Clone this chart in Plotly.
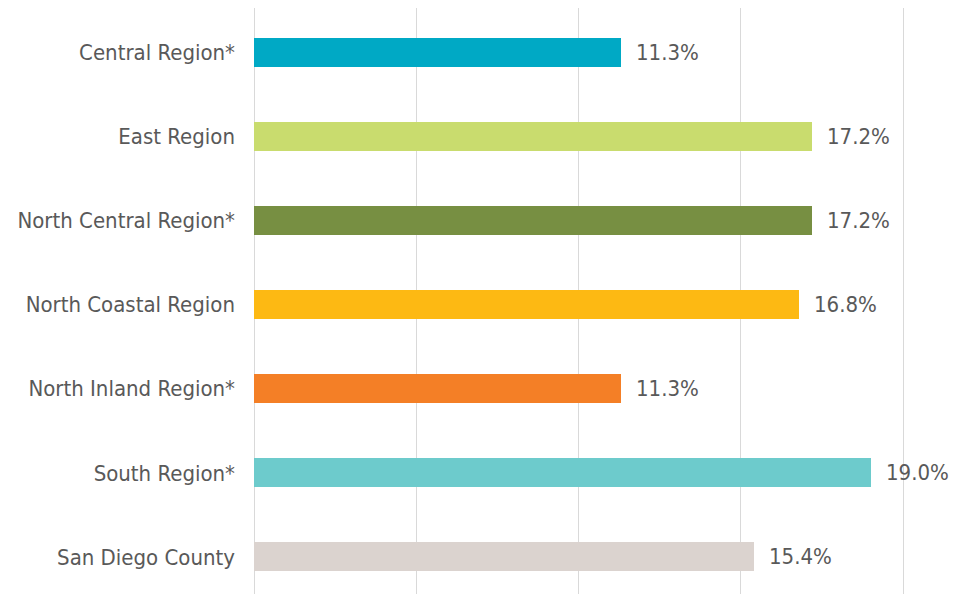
import plotly.graph_objects as go

categories = ["Central Region*", "East Region", "North Central Region*", "North Coastal Region",
              "North Inland Region*", "South Region*", "San Diego County"]
values = [11.3, 17.2, 17.2, 16.8, 11.3, 19.0, 15.4]
value_labels = ["11.3%", "17.2%", "17.2%", "16.8%", "11.3%", "19.0%", "15.4%"]
colors = ["#00A9C5", "#C9DC6E", "#778F42", "#FDB913", "#F47F26", "#6DCBCC", "#DBD3CF"]

FONT = "Liberation Sans Narrow, Arial Narrow, DejaVu Sans Condensed, Liberation Sans, sans-serif"
TEXT_COLOR = "#595959"

fig = go.Figure()
fig.add_trace(go.Bar(
    x=values, y=categories, orientation="h",
    marker=dict(color=colors, line=dict(width=0)),
    width=0.345, hoverinfo="skip",
))

for cat, v, lab in zip(categories, values, value_labels):
    fig.add_annotation(x=v, y=cat, text=lab, showarrow=False, xanchor="left",
                       yanchor="middle", xshift=13,
                       font=dict(family=FONT, size=22, color=TEXT_COLOR))

fig.update_layout(
    width=957, height=594,
    margin=dict(l=246, r=0, t=0, b=0),
    paper_bgcolor="white", plot_bgcolor="white",
    showlegend=False,
    bargap=0,
    xaxis=dict(range=[0, 21.91], tickvals=[0, 5, 10, 15, 20], showticklabels=False,
               showgrid=True, gridcolor="#D9D9D9", gridwidth=1,
               zeroline=True, zerolinecolor="#D9D9D9", zerolinewidth=1,
               showline=False, fixedrange=True, automargin=False),
    yaxis=dict(range=[6.535, -0.523], showgrid=False, zeroline=False, showline=False,
               ticks="", ticklabelstandoff=18, automargin=False,
               tickfont=dict(family=FONT, size=22, color=TEXT_COLOR), fixedrange=True),
)

fig.write_html("out.html")
